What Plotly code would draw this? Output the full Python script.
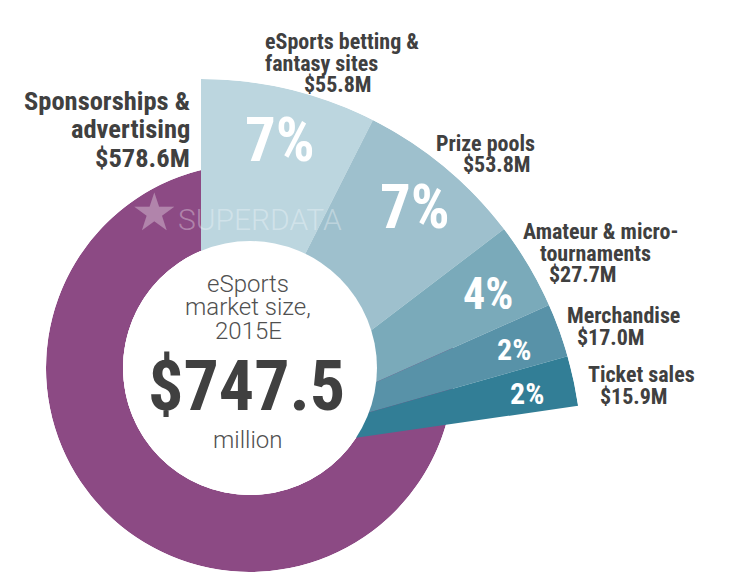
import plotly.graph_objects as go

# ---------------- data ----------------
categories = ["eSports betting & fantasy sites", "Prize pools", "Amateur & micro-tournaments",
              "Merchandise", "Ticket sales", "Sponsorships & advertising"]
values = [55.8, 53.8, 27.7, 17.0, 15.9, 578.6]          # $M
value_labels = ["$55.8M", "$53.8M", "$27.7M", "$17.0M", "$15.9M", "$578.6M"]
pct_labels = ["7%", "7%", "4%", "2%", "2%"]
fan_colors = ["#BCD6DF", "#9EC0CD", "#7AAABA", "#5892A8", "#327E96", "rgba(0,0,0,0)"]
ring_colors = ["rgba(0,0,0,0)"] * 5 + ["#8C4A84"]
center_lines = ["eSports", "market size,", "2015E"]
total_label = "$747.5"
unit_label = "million"

W, H = 730, 584
total = sum(values)
widths = [v / total * 360 for v in values]
thetas = []
acc = 0.0
for w in widths:
    thetas.append(acc + w / 2)
    acc += w


def px(x):
    return x / W


def py(y):
    return 1 - y / H


fig = go.Figure()
# purple ring (sponsorships)
fig.add_trace(go.Barpolar(r=[1] * len(values), theta=thetas, width=widths,
                          marker=dict(color=ring_colors, line=dict(width=0)),
                          subplot="polar", hoverinfo="skip", showlegend=False))
# blue fan (other revenue streams)
fig.add_trace(go.Barpolar(r=[1] * len(values), theta=thetas, width=widths,
                          marker=dict(color=fan_colors, line=dict(width=0)),
                          subplot="polar2", hoverinfo="skip", showlegend=False))

axis_off = dict(
    angularaxis=dict(rotation=90, direction="clockwise", visible=False),
    radialaxis=dict(range=[0, 1], visible=False),
    bgcolor="rgba(0,0,0,0)",
)
# ring: centre (250,368), outer r 204, inner r 127
ring_cx, ring_cy, ring_R, ring_r = 250, 368, 204, 127
# fan apex (201,460), r 381
fan_cx, fan_cy, fan_R = 201, 460, 381

LABEL_FONT = "Roboto Condensed, Liberation Sans Narrow, Liberation Sans, Arial, sans-serif"
LIGHT_FONT = "Roboto, Helvetica, Arial, sans-serif"
DARK = "#404040"

ann = []


def add(text, x, y, size, color=DARK, xanchor="left", family=LABEL_FONT, bold=True, weight=None):
    f = dict(family=family, size=size, color=color)
    if weight is not None:
        f["weight"] = weight
    ann.append(dict(text=("<b>%s</b>" % text) if bold else text, x=px(x), y=py(y),
                    xref="paper", yref="paper", xanchor=xanchor, yanchor="middle",
                    showarrow=False, font=f))


# category labels (line by line)
add("Sponsorships &", 192, 101, 26.5, xanchor="right")
add("advertising", 192, 129, 26.5, xanchor="right")
add(value_labels[5], 192, 157, 26.5, xanchor="right")

add("eSports betting &", 263, 41, 22)
add("fantasy sites", 263, 63, 22)
add(value_labels[0], 374, 85, 22, xanchor="right")

add("Prize pools", 434, 143, 22)
add(value_labels[1], 461, 165, 22)

add("Amateur & micro-", 521, 231, 22)
add("tournaments", 538, 253, 22)
add(value_labels[2], 547, 275, 22)

add("Merchandise", 565, 315, 22)
add(value_labels[3], 575, 337, 22)

add("Ticket sales", 586, 374, 22)
add(value_labels[4], 598, 396, 22)

# percentages inside the fan
add(pct_labels[0], 280, 140, 61, color="white", xanchor="center")
add(pct_labels[1], 415, 207, 61, color="white", xanchor="center")
add(pct_labels[2], 488, 294, 44, color="white", xanchor="center")
add(pct_labels[3], 514, 349, 30, color="white", xanchor="center")
add(pct_labels[4], 527, 393, 30, color="white", xanchor="center")

# watermark
add("★", 154, 212, 52, color="rgba(255,255,255,0.32)", xanchor="center",
    family="DejaVu Sans", bold=False)
add("SUPERDATA", 176, 219, 30, color="rgba(255,255,255,0.32)", family=LIGHT_FONT,
    bold=False, weight=300)

# centre text
add(center_lines[0], 248, 284, 24, color="#505050", xanchor="center", family=LIGHT_FONT,
    bold=False, weight=300)
add(center_lines[1], 248, 307, 24, color="#505050", xanchor="center", family=LIGHT_FONT,
    bold=False, weight=300)
add(center_lines[2], 248, 331, 24, color="#505050", xanchor="center", family=LIGHT_FONT,
    bold=False, weight=300)
add(total_label, 246, 386, 70, color="#404040", xanchor="center")
add(unit_label, 248, 440, 24, color="#505050", xanchor="center", family=LIGHT_FONT,
    bold=False, weight=300)

fig.update_layout(
    template="none",
    width=W, height=H,
    margin=dict(l=0, r=0, t=0, b=0),
    paper_bgcolor="white", plot_bgcolor="white",
    showlegend=False,
    polar=dict(domain=dict(x=[px(ring_cx - ring_R), px(ring_cx + ring_R)],
                           y=[py(ring_cy + ring_R), py(ring_cy - ring_R)]),
               hole=ring_r / ring_R, sector=[0, 360], **axis_off),
    polar2=dict(domain=dict(x=[px(fan_cx), px(fan_cx + fan_R)],
                            y=[py(fan_cy), py(fan_cy - fan_R)]),
                hole=0, sector=[0, 90], **axis_off),
    shapes=[dict(type="circle", xref="paper", yref="paper",
                 x0=px(ring_cx - ring_r), x1=px(ring_cx + ring_r),
                 y0=py(ring_cy + ring_r), y1=py(ring_cy - ring_r),
                 fillcolor="white", line=dict(width=0), layer="above")],
    annotations=ann,
)

fig.write_html("out.html", config={"displayModeBar": False},
               post_script="document.body.style.margin='0';document.body.style.overflow='hidden';")
